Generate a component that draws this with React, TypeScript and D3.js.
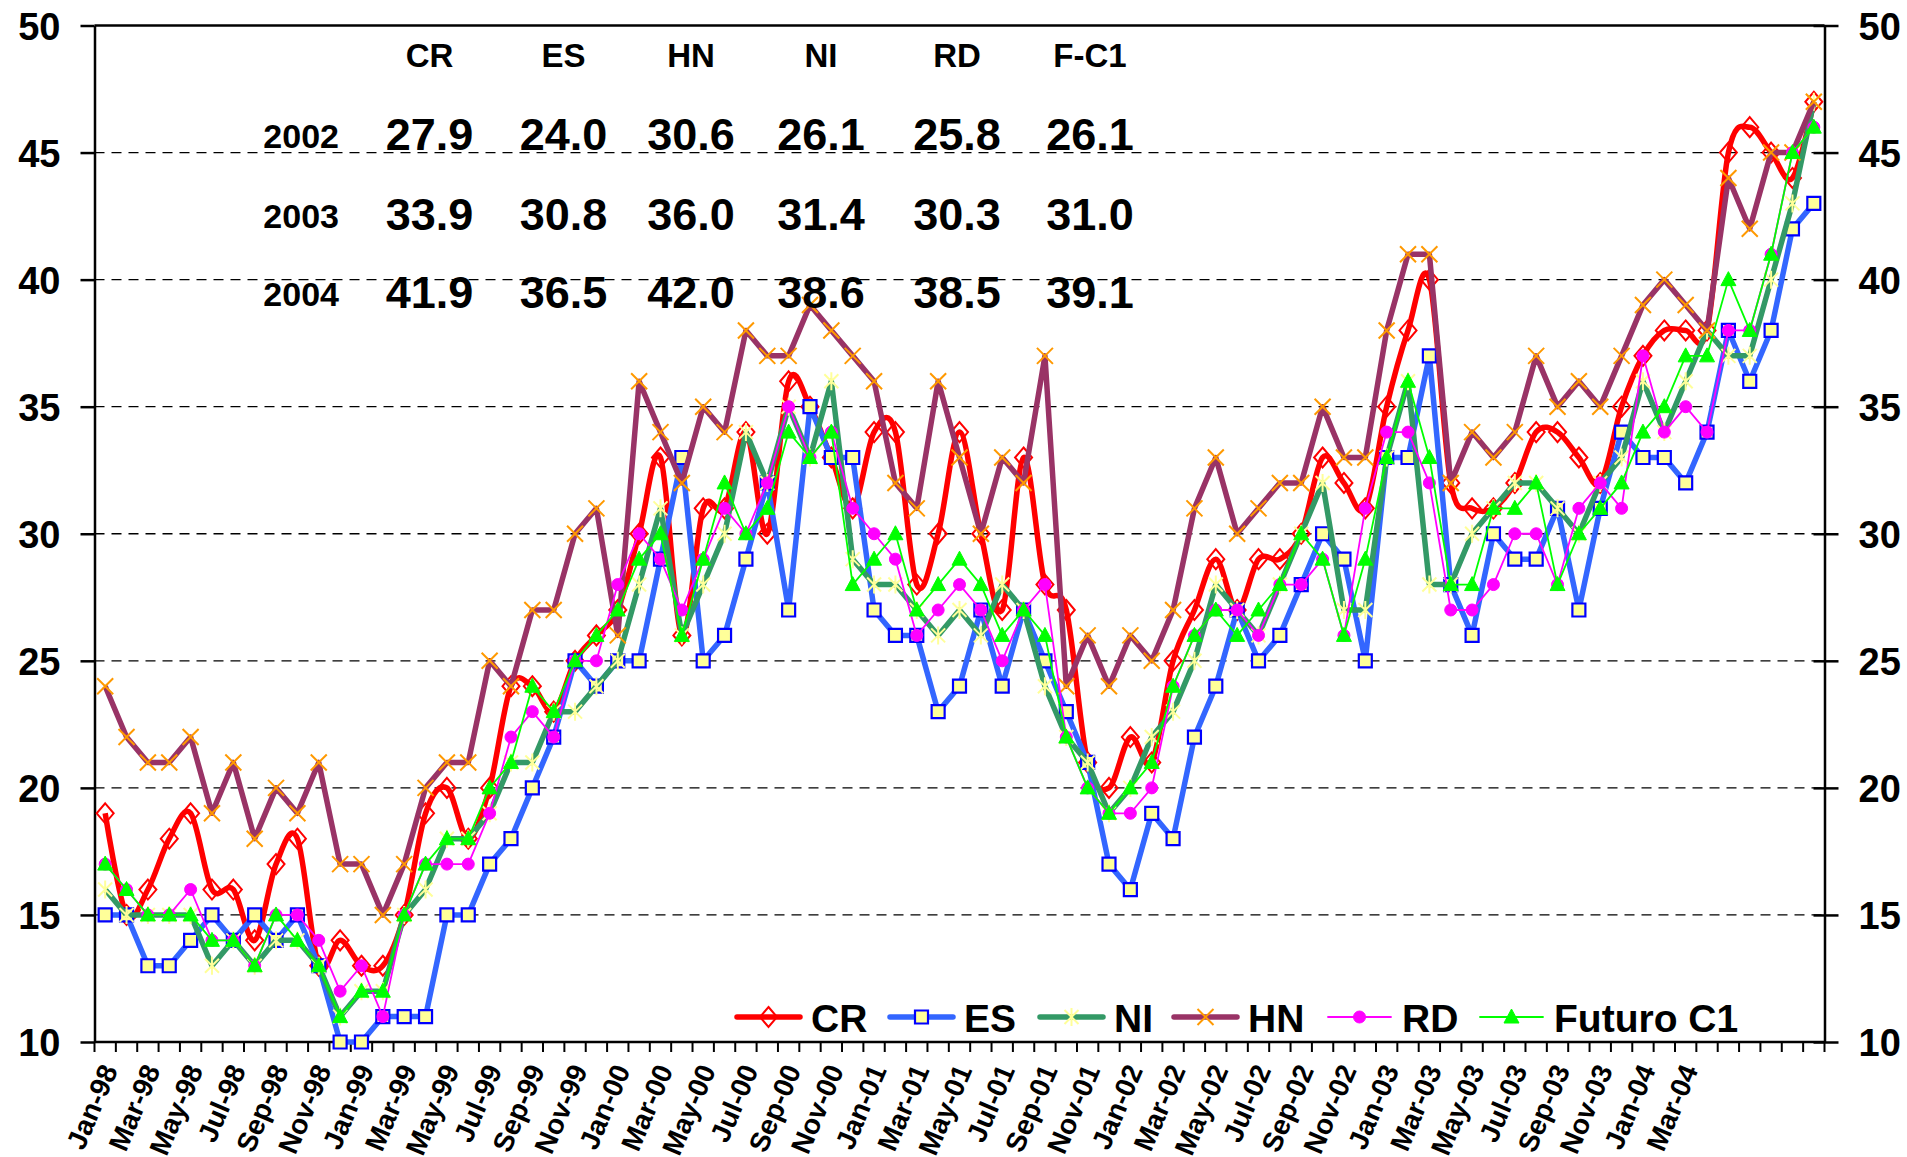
import { useEffect, useRef } from 'react';
import * as d3 from 'd3';

const months = [
  'Jan-98', 'Feb-98', 'Mar-98', 'Apr-98', 'May-98', 'Jun-98', 'Jul-98', 'Aug-98', 'Sep-98', 'Oct-98', 'Nov-98', 'Dec-98',
  'Jan-99', 'Feb-99', 'Mar-99', 'Apr-99', 'May-99', 'Jun-99', 'Jul-99', 'Aug-99', 'Sep-99', 'Oct-99', 'Nov-99', 'Dec-99',
  'Jan-00', 'Feb-00', 'Mar-00', 'Apr-00', 'May-00', 'Jun-00', 'Jul-00', 'Aug-00', 'Sep-00', 'Oct-00', 'Nov-00', 'Dec-00',
  'Jan-01', 'Feb-01', 'Mar-01', 'Apr-01', 'May-01', 'Jun-01', 'Jul-01', 'Aug-01', 'Sep-01', 'Oct-01', 'Nov-01', 'Dec-01',
  'Jan-02', 'Feb-02', 'Mar-02', 'Apr-02', 'May-02', 'Jun-02', 'Jul-02', 'Aug-02', 'Sep-02', 'Oct-02', 'Nov-02', 'Dec-02',
  'Jan-03', 'Feb-03', 'Mar-03', 'Apr-03', 'May-03', 'Jun-03', 'Jul-03', 'Aug-03', 'Sep-03', 'Oct-03', 'Nov-03', 'Dec-03',
  'Jan-04', 'Feb-04', 'Mar-04', 'Apr-04', 'May-04', 'Jun-04', 'Jul-04', 'Aug-04', 'Sep-04',
];

const tickLabels = [
  'Jan-98', 'Mar-98', 'May-98', 'Jul-98', 'Sep-98', 'Nov-98',
  'Jan-99', 'Mar-99', 'May-99', 'Jul-99', 'Sep-99', 'Nov-99',
  'Jan-00', 'Mar-00', 'May-00', 'Jul-00', 'Sep-00', 'Nov-00',
  'Jan-01', 'Mar-01', 'May-01', 'Jul-01', 'Sep-01', 'Nov-01',
  'Jan-02', 'Mar-02', 'May-02', 'Jul-02', 'Sep-02', 'Nov-02',
  'Jan-03', 'Mar-03', 'May-03', 'Jul-03', 'Sep-03', 'Nov-03',
  'Jan-04', 'Mar-04',
];

const crValues = [19, 15, 16, 18, 19, 16, 16, 14, 17, 18, 13, 14, 13, 13, 15, 19, 20, 18, 20, 24, 24, 23, 25, 26, 27, 30, 33, 26, 31, 31, 34, 30, 36, 35, 33, 31, 34, 34, 28, 30, 34, 30, 27, 33, 28, 27, 21, 20, 22, 21, 25, 27, 29, 27, 29, 29, 30, 33, 32, 31, 35, 38, 40, 32, 31, 31, 32, 34, 34, 33, 32, 35, 37, 38, 38, 38, 45, 46, 45, 44, 47];
const esValues = [15, 15, 13, 13, 14, 15, 14, 15, 14, 15, 13, 10, 10, 11, 11, 11, 15, 15, 17, 18, 20, 22, 25, 24, 25, 25, 29, 33, 25, 26, 29, 32, 27, 35, 33, 33, 27, 26, 26, 23, 24, 27, 24, 27, 25, 23, 21, 17, 16, 19, 18, 22, 24, 27, 25, 26, 28, 30, 29, 25, 33, 33, 37, 28, 26, 30, 29, 29, 31, 27, 31, 34, 33, 33, 32, 34, 38, 36, 38, 42, 43];
const niValues = [16, 15, 15, 15, 15, 13, 14, 13, 14, 14, 13, 11, 12, 12, 15, 16, 18, 18, 19, 21, 21, 23, 23, 24, 25, 28, 31, 26, 28, 30, 34, 32, 35, 33, 36, 29, 28, 28, 27, 26, 27, 26, 28, 27, 24, 22, 21, 19, 20, 22, 23, 25, 28, 27, 26, 28, 30, 32, 27, 27, 33, 36, 28, 28, 30, 31, 32, 32, 31, 30, 32, 33, 36, 34, 36, 38, 37, 37, 40, 43, 47];
const hnValues = [24, 22, 21, 21, 22, 19, 21, 18, 20, 19, 21, 17, 17, 15, 17, 20, 21, 21, 25, 24, 27, 27, 30, 31, 26, 36, 34, 32, 35, 34, 38, 37, 37, 39, 38, 37, 36, 32, 31, 36, 33, 30, 33, 32, 37, 24, 26, 24, 26, 25, 27, 31, 33, 30, 31, 32, 32, 35, 33, 33, 38, 41, 41, 32, 34, 33, 34, 37, 35, 36, 35, 37, 39, 40, 39, 38, 44, 42, 45, 45, 47];
const rdValues = [17, 16, 15, 15, 16, 14, 14, 13, 15, 15, 14, 12, 13, 11, 15, 17, 17, 17, 19, 22, 23, 22, 25, 25, 28, 30, 29, 27, 29, 31, 30, 32, 35, 33, 34, 31, 30, 29, 26, 27, 28, 27, 25, 27, 28, 22, 20, 19, 19, 20, 24, 26, 27, 27, 26, 28, 28, 29, 26, 31, 34, 34, 32, 27, 27, 28, 30, 30, 28, 31, 32, 31, 37, 34, 35, 34, 38, 38, 41, 45, 46];
const futuroValues = [17, 16, 15, 15, 15, 14, 14, 13, 15, 14, 13, 11, 12, 12, 15, 17, 18, 18, 20, 21, 24, 23, 25, 26, 27, 29, 30, 26, 29, 32, 30, 31, 34, 33, 34, 28, 29, 30, 27, 28, 29, 28, 26, 27, 26, 22, 20, 19, 20, 21, 24, 26, 27, 26, 27, 28, 30, 29, 26, 29, 33, 36, 33, 28, 28, 31, 31, 32, 28, 30, 31, 32, 34, 35, 37, 37, 40, 38, 41, 45, 46];

const tableHeaders = ['CR', 'ES', 'HN', 'NI', 'RD', 'F-C1'];
const tableYears = ['2002', '2003', '2004'];
const avg2002 = ['27.9', '24.0', '30.6', '26.1', '25.8', '26.1'];
const avg2003 = ['33.9', '30.8', '36.0', '31.4', '30.3', '31.0'];
const avg2004 = ['41.9', '36.5', '42.0', '38.6', '38.5', '39.1'];

const yTicks = [10, 15, 20, 25, 30, 35, 40, 45, 50];
const gridValues = [15, 20, 25, 30, 35, 40, 45];

type Marker = 'diamond' | 'square' | 'asterisk' | 'cross' | 'circle' | 'triangle';

interface Series {
  name: string;
  values: number[];
  color: string;
  width: number;
  marker: Marker;
  smooth: boolean;
}

const series: Series[] = [
  { name: 'CR', values: crValues, color: '#FF0000', width: 5.5, marker: 'diamond', smooth: true },
  { name: 'ES', values: esValues, color: '#3366FF', width: 5.5, marker: 'square', smooth: false },
  { name: 'NI', values: niValues, color: '#339966', width: 5.5, marker: 'asterisk', smooth: false },
  { name: 'HN', values: hnValues, color: '#993366', width: 5.5, marker: 'cross', smooth: false },
  { name: 'RD', values: rdValues, color: '#FF00FF', width: 1.8, marker: 'circle', smooth: false },
  { name: 'Futuro C1', values: futuroValues, color: '#00FF00', width: 1.8, marker: 'triangle', smooth: false },
];

const FONT = '"Liberation Sans", Arial, Helvetica, sans-serif';
const W = 1907;
const H = 1157;
const plot = { left: 94.5, right: 1824.5, top: 25.5, bottom: 1042 };

const markerPath: Record<Marker, string> = {
  diamond: 'M0,-10L8.5,0L0,10L-8.5,0Z',
  square: 'M-6.5,-6.5h13v13h-13Z',
  asterisk: 'M-7,-7L7,7M-7,7L7,-7M0,-9V9',
  cross: 'M-8,-8L8,8M-8,8L8,-8',
  circle: 'M6,0A6,6 0 1,1 -6,0A6,6 0 1,1 6,0Z',
  triangle: 'M0,-8L7.5,6H-7.5Z',
};

function styleMarker(sel: any, kind: Marker) {
  sel.attr('d', markerPath[kind]);
  if (kind === 'diamond') sel.attr('fill', 'none').attr('stroke', '#FF0000').attr('stroke-width', 2);
  if (kind === 'square') sel.attr('fill', '#FFFF99').attr('stroke', '#0000FF').attr('stroke-width', 2.2);
  if (kind === 'asterisk') sel.attr('fill', 'none').attr('stroke', '#FFFF99').attr('stroke-width', 2);
  if (kind === 'cross') sel.attr('fill', 'none').attr('stroke', '#FF9900').attr('stroke-width', 2);
  if (kind === 'circle') sel.attr('fill', '#FF00FF').attr('stroke', '#FF00FF').attr('stroke-width', 1);
  if (kind === 'triangle') sel.attr('fill', '#00FF00').attr('stroke', '#00FF00').attr('stroke-width', 1);
}

export default function App() {
  const ref = useRef<SVGSVGElement>(null);

  useEffect(() => {
    if (!ref.current) return;
    const svg = d3.select(ref.current);
    svg.selectAll('*').remove();

    const x = d3.scaleBand<string>().domain(months).range([plot.left, plot.right]).padding(0);
    const y = d3.scaleLinear().domain([10, 50]).range([plot.bottom, plot.top]);
    const cx = (i: number) => (x(months[i]) as number) + x.bandwidth() / 2;

    svg.append('rect').attr('width', W).attr('height', H).attr('fill', '#fff');

    // dashed gridlines
    svg.append('g')
      .selectAll('line')
      .data(gridValues)
      .join('line')
      .attr('x1', plot.left)
      .attr('x2', plot.right)
      .attr('y1', d => y(d))
      .attr('y2', d => y(d))
      .attr('stroke', '#000')
      .attr('stroke-width', 1.3)
      .attr('stroke-dasharray', '10,7');

    // top border
    svg.append('line')
      .attr('x1', plot.left).attr('x2', plot.right)
      .attr('y1', plot.top).attr('y2', plot.top)
      .attr('stroke', '#000').attr('stroke-width', 2.5);

    // left axis
    const left = svg.append('g')
      .attr('transform', `translate(${plot.left},0)`)
      .call(d3.axisLeft(y).tickValues(yTicks).tickSize(14).tickSizeOuter(0).tickPadding(20));
    left.select('.domain').attr('stroke-width', 2.5);
    left.selectAll('.tick line').attr('stroke-width', 2.5);
    left.selectAll('.tick text')
      .attr('font-family', FONT).attr('font-size', 38).attr('font-weight', 'bold').attr('fill', '#000');

    // right axis (ticks cross)
    const right = svg.append('g')
      .attr('transform', `translate(${plot.right},0)`)
      .call(d3.axisRight(y).tickValues(yTicks).tickSize(14).tickSizeOuter(0).tickPadding(20));
    right.select('.domain').attr('stroke-width', 2.5);
    right.selectAll('.tick line').attr('x1', -11).attr('stroke-width', 2.5);
    right.selectAll('.tick text')
      .attr('font-family', FONT).attr('font-size', 38).attr('font-weight', 'bold').attr('fill', '#000');
    svg.selectAll('.tick text').attr('dy', '0.36em');

    // bottom axis: ticks between categories
    const bounds = months.map(m => x(m) as number).concat([plot.right]);
    const bottom = svg.append('g');
    bottom.append('line')
      .attr('x1', plot.left).attr('x2', plot.right)
      .attr('y1', plot.bottom).attr('y2', plot.bottom)
      .attr('stroke', '#000').attr('stroke-width', 2.5);
    bottom.selectAll('line.tk')
      .data(bounds)
      .join('line')
      .attr('class', 'tk')
      .attr('x1', d => d).attr('x2', d => d)
      .attr('y1', plot.bottom).attr('y2', plot.bottom + 10)
      .attr('stroke', '#000').attr('stroke-width', 2);
    bottom.selectAll('text')
      .data(tickLabels)
      .join('text')
      .attr('transform', d => `translate(${(x(d) as number) + x.bandwidth() / 2 + 4},${plot.bottom + 24}) rotate(-67)`)
      .attr('text-anchor', 'end')
      .attr('dy', '0.35em')
      .attr('font-family', FONT)
      .attr('font-size', 28)
      .attr('font-weight', 'bold')
      .text(d => d);

    // series
    series.forEach(s => {
      const g = svg.append('g');
      const line = d3.line<number>()
        .x((_, i) => cx(i))
        .y(d => y(d));
      if (s.smooth) line.curve(d3.curveCardinal.tension(0));
      g.append('path')
        .datum(s.values)
        .attr('fill', 'none')
        .attr('stroke', s.color)
        .attr('stroke-width', s.width)
        .attr('stroke-linejoin', 'round')
        .attr('d', line);
      g.selectAll('path.mk')
        .data(s.values)
        .join('path')
        .attr('class', 'mk')
        .attr('transform', (d, i) => `translate(${cx(i)},${y(d)})`)
        .call(styleMarker, s.marker);
    });

    // summary table
    const colX = [429.5, 563.6, 691, 821, 957, 1090];
    const tbl = svg.append('g').attr('font-family', FONT).attr('font-weight', 'bold').attr('fill', '#000');
    tbl.selectAll('text.hd')
      .data(tableHeaders)
      .join('text')
      .attr('class', 'hd')
      .attr('x', (_, i) => colX[i]).attr('y', 67)
      .attr('text-anchor', 'middle').attr('font-size', 33)
      .text(d => d);
    const rows = [avg2002, avg2003, avg2004];
    const rowY = [150, 230, 308];
    rows.forEach((row, r) => {
      tbl.append('text')
        .attr('x', 339).attr('y', rowY[r] - 2)
        .attr('text-anchor', 'end').attr('font-size', 34)
        .text(tableYears[r]);
      tbl.selectAll(`text.r${r}`)
        .data(row)
        .join('text')
        .attr('class', `r${r}`)
        .attr('x', (_, i) => colX[i]).attr('y', rowY[r])
        .attr('text-anchor', 'middle').attr('font-size', 45)
        .text(d => d);
    });

    // legend
    const legendX = [737, 890, 1040, 1174, 1328, 1480];
    const legY = 1017;
    const leg = svg.append('g');
    series.forEach((s, i) => {
      const lx = legendX[i];
      const item = leg.append('g');
      item.append('line')
        .attr('x1', lx).attr('x2', lx + 63)
        .attr('y1', legY).attr('y2', legY)
        .attr('stroke', s.color).attr('stroke-width', s.width).attr('stroke-linecap', 'round');
      item.append('path')
        .attr('transform', `translate(${lx + 31.5},${legY})`)
        .call(styleMarker, s.marker);
      item.append('text')
        .attr('x', lx + 74).attr('y', legY + 15)
        .attr('font-family', FONT).attr('font-size', 39).attr('font-weight', 'bold')
        .text(s.name);
    });
  }, []);

  return (
    <svg
      ref={ref}
      width={W}
      height={H}
      style={{ position: 'absolute', left: 0, top: 0, display: 'block', background: '#fff' }}
    />
  );
}
